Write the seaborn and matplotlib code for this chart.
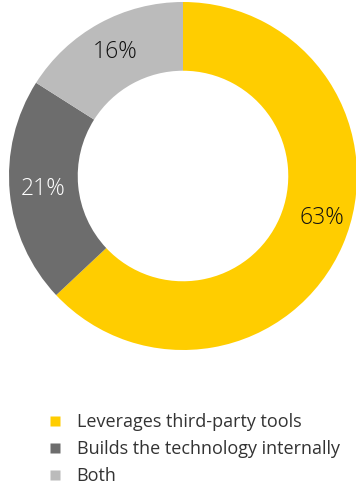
import matplotlib
matplotlib.use("Agg")
import matplotlib.pyplot as plt
from matplotlib.lines import Line2D
import seaborn as sns

categories = ["Leverages third-party tools", "Builds the technology internally", "Both"]
shares = [63, 21, 16]
colors = ["#FFCD00", "#6D6D6D", "#BBBBBB"]
label_colors = ["#111111", "#FFFFFF", "#111111"]

sns.set_theme(style="white")
plt.rcParams["font.family"] = ["Open Sans", "DejaVu Sans"]

W, H = 356, 484
fig = plt.figure(figsize=(W / 100, H / 100), dpi=100)
fig.patch.set_facecolor("white")

# donut axes: centre at (183, 176) px from top-left, radius 174 px
cx, cy, r = 183, 176, 174
ax = fig.add_axes([(cx - r) / W, (H - cy - r) / H, 2 * r / W, 2 * r / H])
wedges, texts, autotexts = ax.pie(
    shares,
    colors=colors,
    startangle=90,
    counterclock=False,
    radius=1.0,
    wedgeprops=dict(width=0.395, edgecolor="none"),
    autopct=lambda p: f"{p:.0f}%",
    pctdistance=0.81,
    textprops=dict(fontsize=16.5, fontweight="light"),
)
for t, c in zip(autotexts, label_colors):
    t.set_color(c)
# the large slice's label sits a little higher on the ring
autotexts[0].set_position((0.80, -0.24))
ax.set_xlim(-1, 1)
ax.set_ylim(-1, 1)
ax.set_aspect("equal")
ax.axis("off")

handles = [
    Line2D([], [], marker="s", linestyle="none", markersize=7.9,
           markerfacecolor=c, markeredgecolor="none")
    for c in colors
]
leg = fig.legend(
    handles, categories,
    loc="upper left",
    bbox_to_anchor=(45.5 / W, 1 - 413 / H),
    frameon=False,
    fontsize=13,
    handlelength=1.0,
    handletextpad=0.72,
    labelspacing=0.5,
    borderpad=0,
    borderaxespad=0,
)
for t in leg.get_texts():
    t.set_color("#333333")

fig.savefig("out.png", dpi=100, facecolor="white")
